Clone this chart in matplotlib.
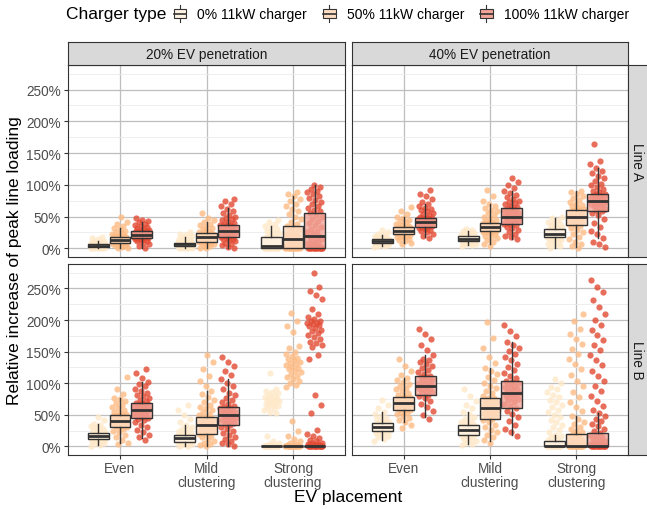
import numpy as np
import matplotlib.pyplot as plt
from matplotlib.patches import Patch, Rectangle
from matplotlib.lines import Line2D
from matplotlib.legend_handler import HandlerBase
from matplotlib.colors import to_rgb

plt.rcParams['font.family'] = ['Liberation Sans', 'DejaVu Sans']

placements = ['Even', 'Mild\nclustering', 'Strong\nclustering']
chargers = ['0% 11kW charger', '50% 11kW charger', '100% 11kW charger']
penetrations = ['20% EV penetration', '40% EV penetration']
line_names = ['Line A', 'Line B']
colors = ['#FEE8C8', '#FDBB84', '#E34A33']

# box stats in %, [whisker low, q1, median, q3, whisker high]
# rows = charger (0%, 50%, 100%), cols = placement (even, mild, strong)
a20_box = [[[0, 2, 4, 7, 12], [0, 3, 6, 9, 17], [0, 0, 3, 17, 35]],
           [[0, 8, 13, 18, 32], [0, 10, 17, 24, 41], [0, 1, 14, 35, 82]],
           [[1, 16, 21, 27, 42], [0, 17, 28, 36, 63], [0, 1, 20, 55, 100]]]
a40_box = [[[3, 9, 11, 14, 21], [5, 12, 15, 19, 27], [1, 17, 23, 30, 47]],
           [[9, 22, 28, 33, 50], [7, 27, 34, 40, 70], [2, 37, 50, 61, 90]],
           [[18, 34, 41, 48, 69], [15, 38, 50, 63, 90], [16, 58, 75, 86, 127]]]
b20_box = [[[2, 11, 16, 21, 36], [0, 7, 13, 18, 33], [0, 0, 0, 0, 0]],
           [[5, 31, 40, 50, 77], [0, 20, 33, 47, 88], [0, 0, 0, 0, 0]],
           [[13, 45, 58, 69, 102], [0, 33, 50, 62, 106], [0, 0, 0, 0, 0]]]
b40_box = [[[10, 25, 31, 37, 55], [3, 18, 26, 34, 55], [0, 0, 1, 8, 18]],
           [[38, 57, 68, 78, 108], [8, 44, 60, 77, 124], [0, 0, 1, 20, 48]],
           [[46, 82, 95, 112, 144], [18, 61, 84, 104, 166], [0, 0, 1, 21, 52]]]

# simulation results (% increase), one list per placement: even, mild, strong
a20_c0 = [[0, 0, 0, 1, 1, 1, 1, 2, 2, 2, 2, 2, 3, 3, 3, 3, 4, 4, 4, 4, 4, 5, 5, 5, 5, 6, 6, 6, 7, 7, 7, 8, 8, 9, 9,
           10, 11, 12, 14, 16, 18],
          [0, 0, 1, 1, 1, 2, 2, 2, 3, 3, 3, 4, 4, 4, 5, 5, 5, 6, 6, 6, 6, 7, 7, 7, 8, 8, 8, 9, 9, 10, 10, 11, 12, 13,
           14, 15, 17, 19, 21, 23, 26],
          [0, 0, 0, 0, 0, 0, 0, 0, 0, 0, 0, 0, 1, 1, 1, 2, 2, 3, 3, 4, 5, 6, 7, 8, 10, 11, 13, 15, 17, 18, 20, 22, 24,
           26, 28, 30, 33, 35, 38, 41, 44]]
a20_c50 = [[0, 1, 2, 3, 4, 5, 6, 7, 7, 8, 8, 9, 9, 10, 10, 11, 11, 12, 12, 13, 13, 13, 14, 14, 15, 15, 16, 16, 17, 17,
            18, 18, 19, 20, 21, 22, 24, 26, 28, 30, 32, 35, 38, 41, 50],
           [0, 1, 3, 4, 6, 7, 8, 9, 10, 10, 11, 12, 13, 13, 14, 15, 16, 16, 17, 17, 18, 19, 19, 20, 21, 22, 23, 23, 24,
            25, 26, 28, 30, 32, 34, 36, 38, 41, 44, 47, 55],
           [0, 0, 0, 0, 0, 0, 0, 0, 0, 0, 1, 1, 1, 2, 3, 4, 5, 7, 9, 11, 12, 14, 16, 18, 20, 22, 24, 27, 30, 33, 35, 38,
            42, 46, 50, 54, 58, 62, 66, 70, 74, 78, 82, 86, 89]]
a20_c100 = [[1, 4, 7, 9, 11, 12, 13, 14, 15, 15, 16, 16, 17, 17, 18, 18, 19, 19, 20, 20, 21, 21, 21, 22, 22, 23, 23, 24,
             24, 25, 25, 26, 26, 27, 27, 28, 29, 30, 32, 33, 35, 37, 39, 41, 43, 45, 48],
            [0, 2, 5, 7, 9, 11, 13, 14, 15, 16, 17, 18, 19, 20, 21, 22, 23, 24, 25, 26, 27, 28, 28, 29, 30, 31, 32, 33,
             34, 35, 35, 36, 37, 38, 40, 42, 44, 46, 48, 50, 53, 56, 59, 62, 66, 70, 75, 78],
            [0, 0, 0, 0, 0, 0, 0, 0, 0, 0, 0, 1, 1, 1, 2, 3, 4, 6, 8, 10, 12, 14, 16, 18, 20, 22, 25, 28, 31, 34, 37, 40,
             43, 46, 49, 52, 55, 58, 61, 64, 67, 70, 73, 76, 79, 82, 85, 88, 91, 94, 97, 100]]

a40_c0 = [[2, 3, 4, 5, 6, 7, 7, 8, 8, 9, 9, 9, 10, 10, 10, 11, 11, 11, 11, 12, 12, 12, 13, 13, 13, 14, 14, 14, 15, 15,
           16, 17, 18, 19, 20, 21, 23, 25, 29],
          [3, 5, 6, 7, 8, 9, 10, 11, 11, 12, 12, 12, 13, 13, 14, 14, 14, 15, 15, 15, 16, 16, 17, 17, 18, 18, 19, 19, 20,
           21, 22, 23, 24, 25, 27, 29, 31],
          [1, 3, 5, 7, 9, 11, 13, 14, 15, 16, 17, 17, 18, 19, 20, 20, 21, 22, 22, 23, 23, 24, 25, 25, 26, 27, 28, 28, 29,
           30, 30, 31, 33, 34, 36, 38, 40, 42, 44, 47, 49]]
a40_c50 = [[7, 9, 11, 13, 15, 17, 18, 19, 20, 21, 22, 22, 23, 24, 24, 25, 26, 26, 27, 27, 28, 28, 29, 29, 30, 30, 31, 31,
            32, 32, 33, 33, 34, 35, 37, 39, 41, 43, 45, 47, 50, 54, 58, 65],
           [4, 7, 10, 13, 16, 18, 20, 22, 24, 25, 26, 27, 28, 29, 29, 30, 31, 32, 32, 33, 34, 34, 35, 36, 36, 37, 38, 38,
            39, 40, 40, 41, 43, 45, 47, 49, 52, 55, 58, 61, 64, 67, 70, 75, 82, 92],
           [1, 3, 6, 10, 14, 18, 22, 26, 29, 32, 35, 37, 38, 40, 41, 43, 44, 45, 47, 48, 49, 50, 51, 52, 53, 54, 55, 56,
            57, 58, 59, 60, 61, 62, 64, 66, 68, 70, 73, 76, 79, 82, 85, 88, 90]]
a40_c100 = [[16, 19, 22, 25, 27, 29, 31, 32, 33, 34, 35, 36, 37, 37, 38, 39, 39, 40, 40, 41, 41, 42, 42, 43, 43, 44, 45,
             45, 46, 47, 47, 48, 48, 50, 52, 54, 56, 58, 60, 62, 64, 66, 69, 73, 77, 82, 86, 92],
            [14, 17, 20, 23, 26, 29, 32, 34, 36, 38, 39, 41, 42, 43, 44, 45, 46, 47, 48, 49, 50, 51, 52, 53, 54, 55, 56,
             57, 58, 59, 60, 61, 62, 63, 65, 67, 69, 71, 73, 75, 78, 81, 84, 87, 90, 95, 100, 104, 110],
            [2, 6, 10, 16, 22, 28, 34, 40, 46, 52, 56, 58, 60, 62, 64, 66, 68, 69, 70, 71, 72, 73, 74, 75, 76, 77, 78, 79,
             80, 81, 82, 83, 84, 85, 86, 88, 90, 93, 96, 99, 102, 106, 110, 114, 118, 122, 127, 132, 137, 165]]

b20_c0 = [[1, 2, 4, 5, 7, 8, 9, 10, 11, 11, 12, 13, 13, 14, 14, 15, 15, 16, 16, 17, 17, 18, 18, 19, 19, 20, 20, 21, 21,
           22, 24, 26, 28, 30, 32, 34, 36, 41, 47],
          [0, 1, 2, 3, 4, 5, 6, 6, 7, 7, 8, 9, 9, 10, 10, 11, 11, 12, 12, 13, 13, 14, 14, 15, 15, 16, 16, 17, 17, 18, 18,
           19, 21, 23, 25, 27, 29, 31, 33, 38, 44, 50, 58, 65],
          [0, 0, 0, 0, 0, 0, 0, 0, 0, 0, 0, 0, 0, 0, 0, 0, 1, 2, 3, 5, 9, 16, 52, 55, 58, 60, 62, 64, 66, 67, 68, 70, 71,
           72, 74, 75, 76, 78, 80, 82, 84, 86, 88, 91, 116]]
b20_c50 = [[3, 6, 10, 14, 18, 22, 25, 28, 30, 31, 32, 33, 34, 35, 36, 37, 38, 39, 40, 40, 41, 42, 43, 44, 45, 46, 47, 48,
            49, 50, 51, 53, 55, 57, 60, 63, 66, 69, 72, 75, 77, 83, 90, 110],
           [0, 2, 4, 6, 9, 12, 15, 17, 19, 20, 21, 23, 24, 26, 27, 28, 30, 31, 32, 33, 34, 35, 37, 38, 40, 41, 43, 44, 46,
            47, 49, 51, 54, 57, 60, 63, 66, 70, 74, 78, 83, 88, 95, 103, 112, 122, 133, 144],
           [0, 0, 0, 0, 0, 0, 0, 0, 0, 0, 0, 0, 0, 0, 0, 0, 1, 2, 3, 5, 8, 11, 16, 24, 40, 94, 97, 100, 103, 106, 109, 112,
            115, 118, 120, 122, 124, 126, 128, 130, 132, 134, 136, 138, 140, 143, 146, 150, 155, 159, 181, 190, 199, 211]]
b20_c100 = [[10, 14, 18, 22, 26, 30, 34, 38, 41, 43, 45, 46, 48, 49, 50, 51, 52, 53, 54, 55, 56, 57, 58, 59, 60, 61, 62,
             63, 64, 65, 66, 67, 68, 69, 71, 73, 76, 79, 82, 85, 88, 91, 95, 98, 102, 108, 116, 123],
            [0, 3, 6, 9, 12, 15, 18, 21, 24, 27, 30, 33, 35, 37, 39, 41, 42, 44, 45, 47, 48, 50, 51, 52, 53, 54, 55, 56,
             57, 58, 59, 60, 61, 62, 64, 67, 70, 73, 77, 81, 85, 90, 95, 100, 106, 113, 120, 127, 134, 141],
            [0, 0, 0, 0, 0, 0, 0, 0, 0, 0, 0, 0, 0, 0, 0, 0, 1, 2, 3, 4, 5, 6, 8, 10, 13, 16, 20, 26, 52, 65, 81, 139, 144,
             157, 160, 163, 166, 170, 173, 176, 180, 183, 185, 188, 190, 192, 193, 195, 196, 198, 199, 202, 205, 210,
             217, 234, 240, 246, 252, 275]]

b40_c0 = [[8, 11, 14, 17, 19, 21, 23, 24, 25, 26, 27, 27, 28, 29, 29, 30, 30, 31, 31, 32, 32, 33, 34, 34, 35, 36, 36, 37,
           37, 39, 41, 43, 45, 48, 51, 55, 60, 66, 73],
          [2, 4, 6, 8, 10, 12, 14, 16, 17, 18, 19, 20, 21, 22, 23, 24, 25, 25, 26, 27, 28, 29, 30, 31, 32, 33, 34, 35, 37,
           39, 41, 44, 47, 51, 55, 60, 66, 72, 80, 90],
          [0, 0, 0, 0, 0, 0, 0, 0, 0, 0, 0, 0, 0, 0, 1, 1, 2, 2, 3, 4, 5, 6, 7, 8, 10, 12, 14, 16, 18, 22, 26, 30, 34, 38,
           42, 46, 50, 54, 58, 62, 66, 70, 74, 78, 82, 86, 90, 94, 100, 107]]
b40_c50 = [[29, 34, 38, 42, 45, 48, 51, 53, 55, 57, 58, 59, 60, 61, 62, 63, 64, 65, 66, 67, 68, 69, 70, 71, 72, 73, 74,
            75, 76, 77, 78, 80, 82, 84, 87, 90, 93, 96, 99, 102, 105, 108, 113, 120, 127, 138],
           [6, 10, 14, 18, 22, 26, 30, 34, 38, 41, 44, 46, 48, 50, 52, 54, 55, 57, 58, 60, 61, 63, 64, 66, 68, 70, 72, 74,
            76, 77, 80, 84, 88, 92, 96, 100, 105, 110, 115, 120, 124, 132, 142, 155, 172, 197],
           [0, 0, 0, 0, 0, 0, 0, 0, 0, 0, 0, 0, 0, 0, 1, 1, 2, 3, 4, 5, 6, 8, 10, 12, 14, 16, 18, 20, 22, 25, 28, 31, 35,
            39, 43, 48, 56, 62, 70, 78, 86, 95, 104, 113, 122, 130, 138, 146, 154, 162, 170, 178, 186, 198, 209]]
b40_c100 = [[44, 50, 56, 62, 67, 72, 76, 79, 82, 84, 86, 88, 90, 91, 93, 94, 95, 96, 98, 99, 101, 103, 105, 107, 109, 110,
             112, 115, 118, 121, 124, 127, 130, 133, 136, 139, 144, 152, 160, 170, 178, 186],
            [16, 22, 28, 34, 40, 46, 51, 56, 61, 64, 67, 70, 73, 75, 77, 79, 81, 83, 84, 86, 88, 90, 92, 94, 96, 98, 100,
             102, 104, 108, 112, 116, 121, 126, 131, 136, 141, 146, 151, 156, 161, 166, 174, 183, 192],
            [0, 0, 0, 0, 0, 0, 0, 0, 0, 0, 0, 0, 0, 0, 1, 1, 2, 3, 4, 5, 6, 8, 10, 12, 14, 16, 18, 21, 24, 28, 32, 36, 40,
             44, 48, 52, 58, 64, 72, 80, 88, 96, 104, 112, 120, 128, 136, 144, 152, 160, 168, 176, 184, 192, 200, 210,
             220, 232, 244, 252, 264]]

panels = [[(a20_box, [a20_c0, a20_c50, a20_c100]), (a40_box, [a40_c0, a40_c50, a40_c100])],
          [(b20_box, [b20_c0, b20_c50, b20_c100]), (b40_box, [b40_c0, b40_c50, b40_c100])]]

W, H = 647, 510
fig = plt.figure(figsize=(W / 100, H / 100), dpi=100)


def px_axes(x0, y0, x1, y1, **kw):
    return fig.add_axes([x0 / W, 1 - y1 / H, (x1 - x0) / W, (y1 - y0) / H], **kw)


def light(c, f=0.5):
    r = np.array(to_rgb(c))
    return tuple(r * f + (1 - f))


dark = '#333333'
txt = '#4D4D4D'
col_x = [(68, 345), (352, 628)]
row_y = [(66, 258), (265, 456)]
dodge = 0.25
jw = 0.09

for r in range(2):
    for c in range(2):
        ax = px_axes(col_x[c][0], row_y[r][0], col_x[c][1], row_y[r][1])
        box, pts = panels[r][c]
        for k in range(3):
            for p in range(3):
                vals = np.array(pts[k][p], dtype=float)
                idx = np.arange(len(vals))
                off = ((idx * 0.618034 + 0.37 * k + 0.11 * p) % 1 - 0.5) * 2 * jw
                ax.scatter(p + 1 + (k - 1) * dodge + off, vals, s=20, color=colors[k],
                           alpha=0.8, linewidths=0, zorder=2)
            stats = [dict(whislo=b[0], q1=b[1], med=b[2], q3=b[3], whishi=b[4], fliers=[])
                     for b in box[k]]
            fc = light(colors[k]) + (0.8,)
            ax.bxp(stats, positions=[p + 1 + (k - 1) * dodge for p in range(3)], widths=0.24,
                   patch_artist=True, showcaps=False, showfliers=False,
                   boxprops=dict(facecolor=fc, edgecolor=dark, lw=1.0),
                   whiskerprops=dict(color=dark, lw=1.0),
                   medianprops=dict(color=dark, lw=2.0),
                   manage_ticks=False, zorder=3)
        ax.set_xlim(0.4, 3.6)
        ax.set_ylim(-13.75, 288.75)
        ax.set_yticks([0, 50, 100, 150, 200, 250])
        ax.set_yticks([25, 75, 125, 175, 225, 275], minor=True)
        ax.set_xticks([1, 2, 3])
        ax.grid(True, which='major', color='#BEBEBE', lw=0.9, zorder=0)
        ax.grid(True, which='minor', axis='y', color='#EBEBEB', lw=0.6, zorder=0)
        ax.set_axisbelow(True)
        for s in ax.spines.values():
            s.set_color(dark)
            s.set_linewidth(0.8)
        ax.tick_params(which='minor', length=0)
        ax.tick_params(which='major', length=3, color=dark, width=0.8,
                       labelsize=9.8, labelcolor=txt, pad=2)
        if c == 0:
            ax.set_yticklabels(['0%', '50%', '100%', '150%', '200%', '250%'])
        else:
            ax.tick_params(axis='y', length=0, labelleft=False)
        if r == 1:
            ax.set_xticklabels(placements, linespacing=1.05)
            ax.tick_params(axis='x', pad=1)
        else:
            ax.tick_params(axis='x', length=0, labelbottom=False)

# strips
for c in range(2):
    sa = px_axes(col_x[c][0], 43, col_x[c][1], 66)
    sa.set_facecolor('#D9D9D9')
    sa.set_xticks([])
    sa.set_yticks([])
    for s in sa.spines.values():
        s.set_color(dark)
        s.set_linewidth(0.8)
    sa.text(0.5, 0.5, penetrations[c], ha='center', va='center', fontsize=9.8, color='#1A1A1A',
            transform=sa.transAxes)
for r in range(2):
    sa = px_axes(628, row_y[r][0], 648, row_y[r][1])
    sa.set_facecolor('#D9D9D9')
    sa.set_xticks([])
    sa.set_yticks([])
    for s in sa.spines.values():
        s.set_color(dark)
        s.set_linewidth(0.8)
    sa.text(0.45, 0.5, line_names[r], ha='center', va='center', fontsize=9.8, color='#1A1A1A',
            rotation=-90, transform=sa.transAxes)

fig.text(348 / W, 1 - 498 / H, 'EV placement', ha='center', va='center', fontsize=12.5)
fig.text(15 / W, 1 - 261 / H, 'Relative increase of peak line loading', ha='center',
         va='center', rotation=90, fontsize=12.5)


class BoxKey(HandlerBase):
    def create_artists(self, legend, orig_handle, xdescent, ydescent, width, height, fontsize, trans):
        x0, y0 = -xdescent, -ydescent
        cx = x0 + width / 2
        bw = width * 0.7
        fc = orig_handle.get_facecolor()
        whisk = Line2D([cx, cx], [y0 - height * 0.1, y0 + height * 1.1], color=dark, lw=0.8,
                       transform=trans)
        rect = Rectangle((cx - bw / 2, y0 + height * 0.2), bw, height * 0.6, facecolor=fc,
                         edgecolor=dark, lw=0.8, transform=trans)
        med = Line2D([cx - bw / 2, cx + bw / 2], [y0 + height / 2] * 2, color=dark, lw=1.2,
                     transform=trans)
        return [whisk, rect, med]


fig.text(66 / W, 1 - 15 / H, 'Charger type', ha='left', va='center', fontsize=12.5)
handles = [Patch(facecolor=light(col), label=lab) for col, lab in zip(colors, chargers)]
fig.legend(handles=handles, loc='center left', bbox_to_anchor=(171 / W, 1 - 15 / H), ncol=3,
           frameon=False, fontsize=10, handler_map={Patch: BoxKey()}, handlelength=1.3,
           handleheight=1.2, handletextpad=0.6, columnspacing=0.95, borderpad=0, borderaxespad=0)

plt.savefig('out.png', dpi=100)
